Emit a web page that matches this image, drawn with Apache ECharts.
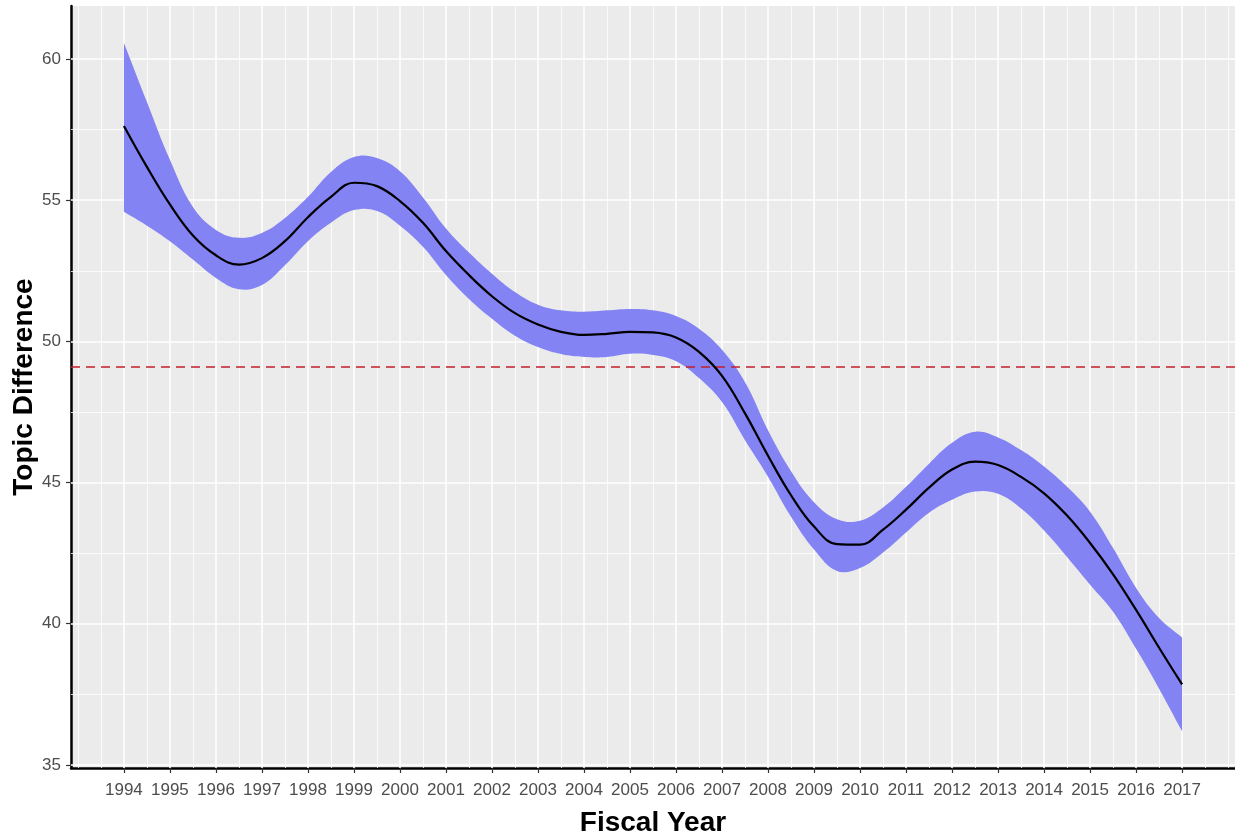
<!DOCTYPE html>
<html>
<head>
<meta charset="utf-8">
<title>Topic Difference by Fiscal Year</title>
<script src="https://cdn.jsdelivr.net/npm/echarts@6/dist/echarts.min.js"></script>
<style>
  html, body { margin: 0; padding: 0; background: #fff; }
  #main { width: 1235px; height: 835px; }
</style>
</head>
<body>
<div id="main"></div>
<script>
// x positions (fiscal year, half-year steps)
var years = [1994, 1994.5, 1995, 1995.5, 1996, 1996.5, 1997, 1997.5, 1998, 1998.5,
  1999, 1999.5, 2000, 2000.5, 2001, 2001.5, 2002, 2002.5, 2003, 2003.5,
  2004, 2004.5, 2005, 2005.5, 2006, 2006.5, 2007, 2007.5, 2008, 2008.5,
  2009, 2009.5, 2010, 2010.5, 2011, 2011.5, 2012, 2012.5, 2013, 2013.5,
  2014, 2014.5, 2015, 2015.5, 2016, 2016.5, 2017];

// smoothed fit
var fitValues = [57.63, 56.18, 54.85, 53.75, 53.05, 52.72, 52.95, 53.55, 54.4, 55.12,
  55.62, 55.5, 54.97, 54.2, 53.2, 52.35, 51.6, 51.0, 50.6, 50.34,
  50.23, 50.27, 50.34, 50.32, 50.14, 49.63, 48.78, 47.45, 45.95, 44.55,
  43.44, 42.82, 42.8, 43.33, 44.04, 44.82, 45.46, 45.74, 45.62, 45.2,
  44.62, 43.83, 42.86, 41.75, 40.49, 39.15, 37.85];

// confidence band
var upperValues = [60.57, 58.48, 56.43, 54.76, 53.95, 53.67, 53.84, 54.37, 55.12, 56.0,
  56.53, 56.5, 56.03, 55.1, 54.0, 53.15, 52.4, 51.75, 51.3, 51.1,
  51.05, 51.1, 51.15, 51.1, 50.9, 50.45, 49.7, 48.55, 46.85, 45.4,
  44.3, 43.7, 43.65, 44.12, 44.85, 45.67, 46.41, 46.8, 46.6, 46.15,
  45.57, 44.85, 43.97, 42.68, 41.27, 40.2, 39.51];
var lowerValues = [54.59, 54.1, 53.55, 52.9, 52.25, 51.85, 52.0, 52.7, 53.55, 54.2,
  54.65, 54.62, 54.1, 53.35, 52.35, 51.5, 50.8, 50.2, 49.8, 49.55,
  49.45, 49.45, 49.56, 49.52, 49.3, 48.7, 47.85, 46.5, 45.21, 43.79,
  42.63, 41.87, 41.97, 42.52, 43.23, 43.93, 44.39, 44.68, 44.6, 44.08,
  43.3, 42.36, 41.38, 40.42, 39.11, 37.7, 36.19];

// axis ticks
var xTicks = [1994, 1995, 1996, 1997, 1998, 1999, 2000, 2001, 2002, 2003, 2004, 2005,
  2006, 2007, 2008, 2009, 2010, 2011, 2012, 2013, 2014, 2015, 2016, 2017];
var yTicks = [35, 40, 45, 50, 55, 60];

// dashed reference level
var refLevel = 49.1;

var myChart = echarts.init(document.getElementById('main'));

var fitData = years.map(function (x, i) { return [x, fitValues[i]]; });
var bandData = years.map(function (x, i) { return [x, lowerValues[i], upperValues[i]]; });

// panel grid lines (ggplot style): majors at ticks, minors half way
var gridLines = [];
xTicks.forEach(function (v) {
  gridLines.push({ xAxis: v, lineStyle: { width: 1.6 } });
});
var xMinor = [xTicks[0] - 1, xTicks[0] - 0.5];
xTicks.forEach(function (v) { xMinor.push(v + 0.5); });
xMinor.push(xTicks[xTicks.length - 1] + 1);
xMinor.forEach(function (v) {
  gridLines.push({ xAxis: v, lineStyle: { width: 0.8 } });
});
yTicks.forEach(function (v, i) {
  gridLines.push({ yAxis: v, lineStyle: { width: 1.6 } });
  if (i < yTicks.length - 1) {
    gridLines.push({ yAxis: v + 2.5, lineStyle: { width: 0.8 } });
  }
});

var labelFont = 'Liberation Sans, Arial, sans-serif';

// ribbon: one polygon along the upper edge and back along the lower edge.
// end points are doubled so the smoothing keeps the vertical ends straight
function renderBand(params, api) {
  if (params.dataIndex !== 0) return;
  var n = bandData.length;
  var pts = [];
  for (var i = 0; i < n; i++) {
    pts.push(api.coord([bandData[i][0], bandData[i][2]]));
  }
  pts.push(api.coord([bandData[n - 1][0], bandData[n - 1][2]]));
  pts.push(api.coord([bandData[n - 1][0], bandData[n - 1][1]]));
  for (var j = n - 1; j >= 0; j--) {
    pts.push(api.coord([bandData[j][0], bandData[j][1]]));
  }
  pts.push(api.coord([bandData[0][0], bandData[0][1]]));
  pts.push(api.coord([bandData[0][0], bandData[0][2]]));
  return {
    type: 'polygon',
    shape: { points: pts, smooth: 0.4 },
    style: { fill: '#8383F4', stroke: 'none' },
    silent: true
  };
}

option = {
  backgroundColor: '#ffffff',
  animation: false,
  grid: {
    left: 71,
    right: 0,
    top: 6,
    bottom: 67,
    outerBoundsMode: 'none',
    containLabel: false,
    show: true,
    backgroundColor: '#EBEBEB',
    borderWidth: 0
  },
  xAxis: {
    type: 'value',
    min: 1992.85,
    max: 2018.15,
    name: 'Fiscal Year',
    nameLocation: 'middle',
    nameGap: 41,
    nameMoveOverlap: false,
    nameTextStyle: { fontFamily: labelFont, fontWeight: 'bold', fontSize: 28, color: '#000' },
    axisLine: { show: true, lineStyle: { color: '#000', width: 2.5 } },
    axisTick: { show: true, customValues: xTicks, length: 5, lineStyle: { color: '#333', width: 1.2 } },
    axisLabel: {
      customValues: xTicks,
      formatter: function (v) { return String(v); },
      color: '#4D4D4D', fontSize: 17, fontFamily: labelFont, margin: 14
    },
    splitLine: { show: false }
  },
  yAxis: {
    type: 'value',
    min: 34.89,
    max: 61.88,
    name: 'Topic Difference',
    nameLocation: 'middle',
    nameGap: 33,
    nameMoveOverlap: false,
    nameTextStyle: { fontFamily: labelFont, fontWeight: 'bold', fontSize: 28, color: '#000' },
    axisLine: { show: true, lineStyle: { color: '#000', width: 2.5 } },
    axisTick: { show: true, customValues: yTicks, length: 5, lineStyle: { color: '#333', width: 1.2 } },
    axisLabel: {
      customValues: yTicks,
      formatter: function (v) { return String(v); },
      color: '#4D4D4D', fontSize: 17, fontFamily: labelFont, margin: 10
    },
    splitLine: { show: false }
  },
  series: [
    {
      name: 'grid',
      type: 'line',
      data: fitData,
      symbol: 'none',
      silent: true,
      z: 1,
      lineStyle: { opacity: 0 },
      markLine: {
        silent: true,
        symbol: 'none',
        z: 1,
        label: { show: false },
        lineStyle: { color: '#ffffff', type: 'solid' },
        data: gridLines
      }
    },
    {
      name: 'band',
      type: 'custom',
      data: bandData,
      encode: { x: 0, y: [1, 2] },
      renderItem: renderBand,
      silent: true,
      z: 2
    },
    {
      name: 'fit',
      type: 'line',
      data: fitData,
      smooth: 0.4,
      symbol: 'none',
      silent: true,
      z: 5,
      lineStyle: { color: '#000', width: 2.2 },
      markLine: {
        silent: true,
        symbol: 'none',
        z: 4,
        label: { show: false },
        lineStyle: { color: '#C21F2A', type: [9, 6], width: 1.6 },
        data: [{ yAxis: refLevel }]
      }
    }
  ]
};
myChart.setOption(option);
window.addEventListener('resize', function () {
  myChart.resize();
});
</script>
</body>
</html>
